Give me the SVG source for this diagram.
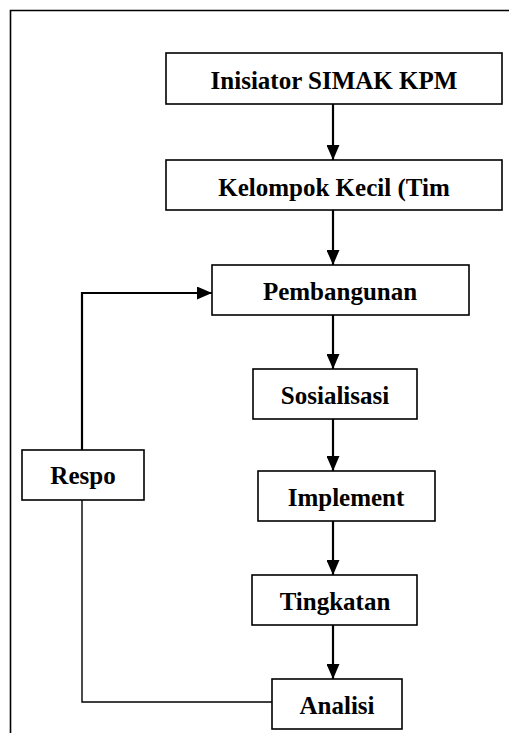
<svg xmlns="http://www.w3.org/2000/svg" width="509" height="733" viewBox="0 0 509 733">
<defs>
<marker id="ah" markerWidth="15" markerHeight="13" refX="15" refY="6.5" orient="auto" markerUnits="userSpaceOnUse" viewBox="0 0 15 13">
<path d="M0,0 L15,6.5 L0,13 Z" fill="#000"/>
</marker>
<style>
.box{fill:#fff;stroke:#000;stroke-width:1.6}
.lbl{font-family:"Liberation Serif","Times New Roman",serif;font-weight:bold;font-size:25px;text-anchor:middle;fill:#000}
.con{fill:none;stroke:#000;stroke-width:2.2}
.thin{fill:none;stroke:#000;stroke-width:1.4}
</style>
</defs>
<rect width="509" height="733" fill="#fff"/>
<path d="M10.5,733 V10.5 H509" fill="none" stroke="#000" stroke-width="1.6"/>
<g id="connectors">
<line class="con" x1="333" y1="104" x2="333" y2="160" marker-end="url(#ah)"/>
<line class="con" x1="333" y1="210" x2="333" y2="265" marker-end="url(#ah)"/>
<line class="con" x1="333" y1="315" x2="333" y2="369" marker-end="url(#ah)"/>
<line class="con" x1="333" y1="419" x2="333" y2="471" marker-end="url(#ah)"/>
<line class="con" x1="333" y1="521" x2="333" y2="575" marker-end="url(#ah)"/>
<line class="con" x1="333" y1="625" x2="333" y2="679" marker-end="url(#ah)"/>
<path class="thin" d="M272,702 H82 V500"/>
<path class="con" d="M82,450 V293 H212" marker-end="url(#ah)"/>
</g>
<g id="n1"><rect class="box" x="166" y="53" width="336" height="51"/><text class="lbl" x="334" y="89">Inisiator SIMAK KPM</text></g>
<g id="n2"><rect class="box" x="166" y="160" width="336" height="50"/><text class="lbl" x="334" y="196">Kelompok Kecil (Tim</text></g>
<g id="n3"><rect class="box" x="212" y="265" width="257" height="50"/><text class="lbl" x="340" y="300">Pembangunan</text></g>
<g id="n4"><rect class="box" x="253" y="369" width="164" height="50"/><text class="lbl" x="335" y="404">Sosialisasi</text></g>
<g id="n5"><rect class="box" x="258" y="471" width="177" height="50"/><text class="lbl" x="346" y="506">Implement</text></g>
<g id="n6"><rect class="box" x="252" y="575" width="165" height="50"/><text class="lbl" x="335" y="610">Tingkatan</text></g>
<g id="n7"><rect class="box" x="272" y="679" width="130" height="50"/><text class="lbl" x="337" y="714">Analisi</text></g>
<g id="n8"><rect class="box" x="22" y="450" width="122" height="50"/><text class="lbl" x="83" y="484">Respo</text></g>
</svg>
